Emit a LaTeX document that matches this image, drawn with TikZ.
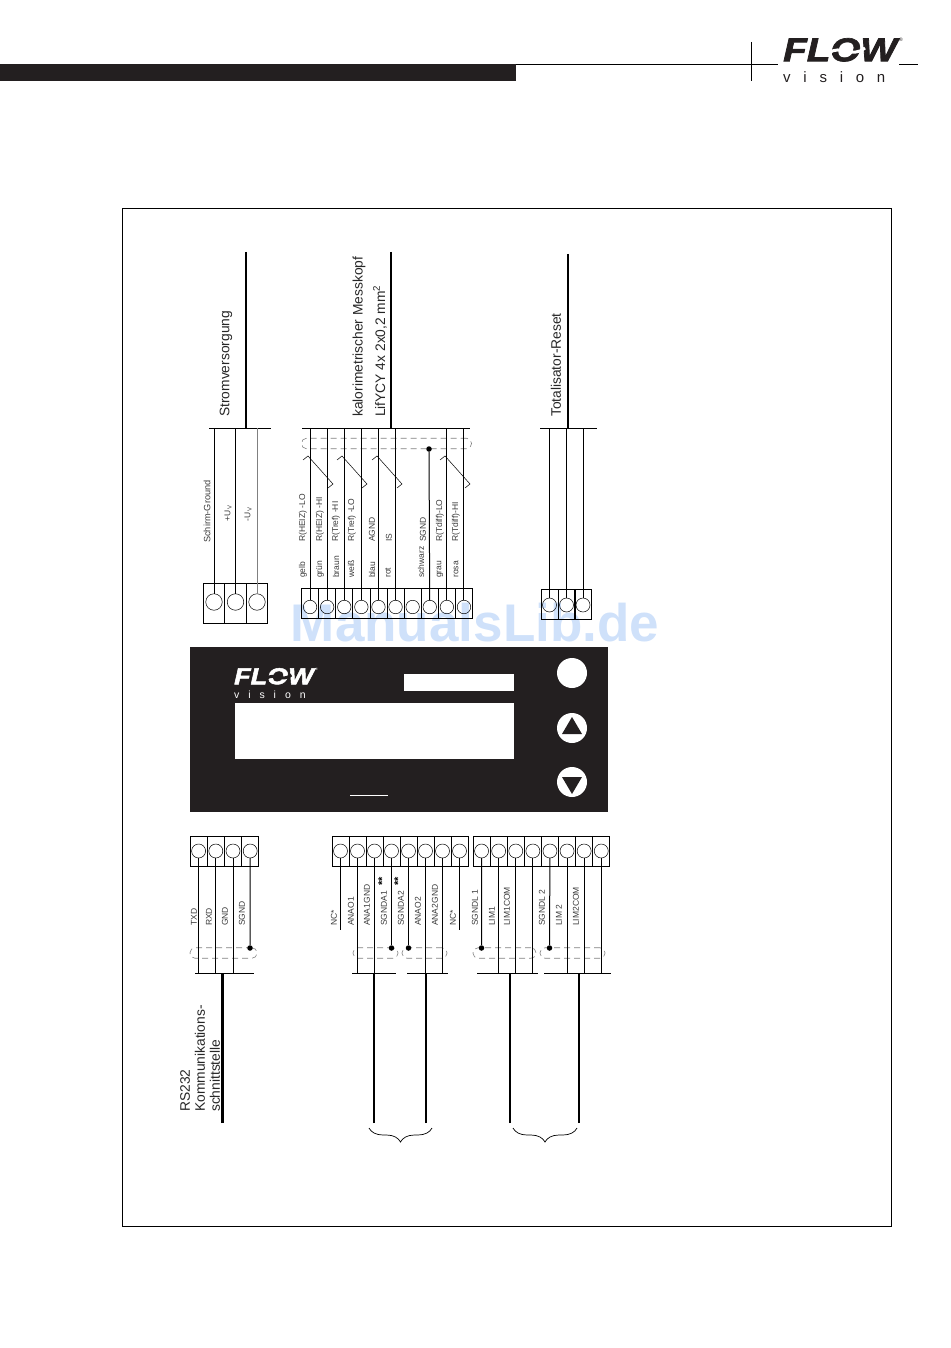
\documentclass[tikz,border=0pt]{standalone}
\usepackage{fontspec}
\usepackage{graphicx}
\setmainfont{Liberation Sans}
\newfontfamily\visionfont[LetterSpace=85]{Liberation Sans}
\newfontfamily\flowfont[BoldItalicFeatures={FakeBold=2}]{Liberation Sans}
\usetikzlibrary{decorations.pathreplacing}
\definecolor{panelblack}{HTML}{231F20}
\definecolor{inkgray}{HTML}{3A3A3A}
\definecolor{shieldgray}{HTML}{808080}
\definecolor{markblue}{HTML}{CFE1FA}
\tikzset{
	pics/flowlogo/.style 2 args={code={
		\node[anchor=north west,inner sep=0pt,text=#1,font=\fontsize{33}{33}\flowfont\bfseries\itshape] (-flow) at (0,0) {\scalebox{1.17}[1]{FLOW}};
		\draw[#2,line width=3pt] (46,15) .. controls (58,6) and (68,21) .. (82,10);
		\node[anchor=north west,inner sep=0pt,text=#1,font=\fontsize{5}{5}\selectfont] (-mark) at (116,0) {®};
		\node[anchor=north west,inner sep=0pt,text=#1,font=\fontsize{15}{15}\visionfont] (-vision) at (0,33) {vision};
	}},
	termcell/.style={draw,inner sep=0pt,outer sep=0pt,line width=.8pt},
	termpin/.style={circle,draw,inner sep=0pt,outer sep=0pt,line width=.5pt},
	wire/.style={line width=1pt},
	bus/.style={line width=1pt},
	cable/.style={line width=2.4pt},
	twist/.style={line width=.5pt},
	shield/.style={draw=shieldgray,dashed,dash pattern=on 6pt off 4pt,rounded corners=5pt,inner sep=0pt,line width=.6pt,minimum height=10.5pt},
	sdot/.style={circle,fill=black,inner sep=0pt,minimum size=5.5pt},
	wirelabel/.style={rotate=90,anchor=west,inner sep=0pt,text=inkgray,font=\fontsize{8.5}{8.5}\selectfont},
	head/.style={rotate=90,anchor=west,inner sep=0pt,align=left,text=black!85,font=\fontsize{13.8}{15}\selectfont},
	brace/.style={decorate,decoration={brace,amplitude=14pt},line width=.7pt},
	whitebox/.style={fill=white,anchor=north west,inner sep=0pt,outer sep=0pt},
	button/.style={circle,fill=white,inner sep=0pt,minimum size=30pt}
}
\begin{document}
\begin{tikzpicture}[x=1pt,y=-1pt]
\useasboundingbox (0,0) rectangle (950,1348);
\node[text=markblue,font=\fontsize{53}{53}\selectfont\bfseries] (watermark) at (475,623) {ManualsLib.de};

\node[fill=panelblack,anchor=north west,inner sep=0pt,outer sep=0pt,minimum width=516pt,minimum height=17pt] (headbar) at (0,64) {};
\coordinate (ruleA) at (headbar.north east);
\coordinate (ruleB) at (778,64);
\coordinate (ruleC) at (899,64);
\coordinate (ruleD) at (918,64);
\coordinate (tickA) at (751,42);
\coordinate (tickB) at (751,81);
\draw[line width=.6pt] (ruleA) -- (ruleB);
\draw[line width=.6pt] (ruleC) -- (ruleD);
\draw[line width=.6pt] (tickA) -- (tickB);
\pic (logoHead) at (783,38) {flowlogo={panelblack}{white}};

\node[draw,anchor=north west,inner sep=0pt,outer sep=0pt,line width=.7pt,minimum width=769pt,minimum height=1018pt] (frame) at (122.5,208.5) {};

\node[head] (stromText) at (226,417) {Stromversorgung};
\coordinate (stromTop) at (246,252);
\coordinate (stromL) at (209,428);
\coordinate (stromR) at (271,428);
\draw[bus] (stromL) -- (stromR);
\draw[cable] (stromTop) -- (stromTop |- stromL);
\foreach \n/\x in {1/214,2/235.5,3/257} {
	\node[termcell,minimum width=21.7pt,minimum height=40pt] (stromCell\n) at (\x,603) {};
	\node[termpin,minimum size=16.5pt] (strom\n) at (\x,602) {};
}
\draw[wire] (strom1) -- (strom1 |- stromL);
\draw[wire] (strom2) -- (strom2 |- stromL);
\draw[wire,shieldgray] (strom3) -- (strom3 |- stromL);
\node[wirelabel,font=\fontsize{9.2}{9.2}\selectfont] (stromLabelA) at (207,543) {Schirm-Ground};
\node[wirelabel] (stromLabelB) at (228,522) {+U\textsubscript{ V}};
\node[wirelabel] (stromLabelC) at (248,522) {-U\textsubscript{ V}};

\node[head] (messTextA) at (359,417) {kalorimetrischer Messkopf};
\node[head] (messTextB) at (380,417) {LifYCY 4x 2x0,2 mm\textsuperscript{2}};
\coordinate (messTop) at (391,252);
\coordinate (messL) at (302,428);
\coordinate (messR) at (470,428);
\draw[bus] (messL) -- (messR);
\draw[cable] (messTop) -- (messTop |- messL);
\node[shield,minimum width=170pt] (messShield) at (386.5,443.5) {};
\foreach \n in {1,...,10} {
	\pgfmathsetmacro\x{301.5+17.1*(\n-.5)}
	\node[termcell,minimum width=17.1pt,minimum height=30pt] (messCell\n) at (\x,603) {};
	\node[termpin,minimum size=13.5pt] (mess\n) at (\x,607) {};
}
\foreach \n in {1,...,6,9,10} {
	\draw[wire] (mess\n) -- (mess\n |- messL);
}
\node[sdot] (messDot) at (429,449) {};
\draw[wire] (mess8) -- (messDot);
\foreach \x in {303,337,372,440} {
	\draw[twist] (\x,460) -- ++(5,-4) -- ++(25,28) -- ++(-5,4);
}
\foreach \n/\x/\t in {a/303/R(HEIZ) -LO,b/320/R(HEIZ) -HI,c/336/R(Tref) -HI,d/352/R(Tref) -LO,e/372/AGND,f/389/IS,g/423/SGND,h/440/R(Tdiff)-LO,i/456/R(Tdiff)-HI} {
	\node[wirelabel] (messSig\n) at (\x,542) {\t};
}
\foreach \n/\x/\t in {a/303/gelb,b/320/grün,c/336/braun,d/351/weiß,e/372/blau,f/388/rot,g/421/schwarz,h/440/grau,i/456/rosa} {
	\node[wirelabel] (messCol\n) at (\x,578) {\t};
}

\node[head] (totalText) at (556,417) {Totalisator-Reset};
\coordinate (totalTop) at (568,254);
\coordinate (totalL) at (540,428);
\coordinate (totalR) at (597,428);
\draw[bus] (totalL) -- (totalR);
\draw[cable] (totalTop) -- (totalTop |- totalL);
\foreach \n/\x in {1/549.5,2/566.5,3/583} {
	\node[termcell,minimum width=17pt,minimum height=30pt] (totalCell\n) at (\x,604) {};
	\node[termpin,minimum size=14pt] (total\n) at (\x,605) {};
	\draw[wire] (total\n) -- (total\n |- totalL);
}

\node[fill=panelblack,anchor=north west,inner sep=0pt,outer sep=0pt,minimum width=418pt,minimum height=165pt] (display) at (190,647) {};
\pic[scale=.7,transform shape] (logoPanel) at (234,668) {flowlogo={white}{panelblack}};
\node[whitebox,minimum width=110pt,minimum height=17pt] (windowSmall) at (404,674) {};
\node[whitebox,minimum width=279pt,minimum height=56pt] (windowBig) at (235,703) {};
\coordinate (dashA) at (350,795);
\coordinate (dashB) at (388,795);
\draw[white,line width=.8pt] (dashA) -- (dashB);
\node[button] (keyEnter) at (572,673) {};
\node[button] (keyUp) at (572,728) {};
\node[button] (keyDown) at (572,782) {};
\fill[panelblack] (572,717) -- (582,734) -- (562,734) -- cycle;
\fill[panelblack] (572,794) -- (582,777) -- (562,777) -- cycle;

\foreach \n in {1,...,4} {
	\pgfmathsetmacro\x{190+17.2*(\n-.5)}
	\node[termcell,minimum width=17.2pt,minimum height=30pt] (rsCell\n) at (\x,851) {};
	\node[termpin,minimum size=14pt] (rs\n) at (\x,851) {};
}
\coordinate (rsL) at (195,973.5);
\coordinate (rsR) at (254,973.5);
\coordinate (rsEnd) at (222.5,1123);
\node[shield,minimum width=67pt] (rsShield) at (223.5,953) {};
\draw[bus] (rsL) -- (rsR);
\draw[cable] (rsEnd) -- (rsEnd |- rsL);
\foreach \n in {1,2,3} {
	\draw[wire] (rs\n) -- (rs\n |- rsL);
}
\node[sdot] (rsDot) at (250,948) {};
\draw[wire] (rs4) -- (rsDot);
\foreach \n/\x/\t in {1/194/TXD,2/209/RXD,3/225/GND,4/242/SGND} {
	\node[wirelabel] (rsSig\n) at (\x,926) {\t};
}
\node[head] (rsText) at (200,1112) {RS232\\Kommunikations-\\schnittstelle};

\foreach \n in {1,...,8} {
	\pgfmathsetmacro\x{332+17*(\n-.5)}
	\node[termcell,minimum width=17pt,minimum height=30pt] (anaCell\n) at (\x,851) {};
	\node[termpin,minimum size=14pt] (ana\n) at (\x,851) {};
}
\coordinate (anaLA) at (352,973.5);
\coordinate (anaRA) at (396,973.5);
\coordinate (anaLB) at (407,973.5);
\coordinate (anaRB) at (448,973.5);
\coordinate (anaEndA) at (374,1123);
\coordinate (anaEndB) at (426,1123);
\coordinate (ncA) at (340.5,930);
\coordinate (ncB) at (459.5,930);
\node[shield,minimum width=45pt] (anaShieldA) at (375.5,953) {};
\node[shield,minimum width=45pt] (anaShieldB) at (424.5,953) {};
\draw[bus] (anaLA) -- (anaRA);
\draw[bus] (anaLB) -- (anaRB);
\draw[cable] (anaEndA) -- (anaEndA |- anaLA);
\draw[cable] (anaEndB) -- (anaEndB |- anaLB);
\draw[wire] (ana1) -- (ncA);
\draw[wire] (ana8) -- (ncB);
\foreach \n in {2,3} {
	\draw[wire] (ana\n) -- (ana\n |- anaLA);
}
\foreach \n in {6,7} {
	\draw[wire] (ana\n) -- (ana\n |- anaLB);
}
\node[sdot] (anaDotA) at (391.5,948) {};
\node[sdot] (anaDotB) at (408.5,948) {};
\draw[wire] (ana4) -- (anaDotA);
\draw[wire] (ana5) -- (anaDotB);
\foreach \n/\x/\t in {1/334/NC*,2/351/ANAO1,3/367/ANA1GND,4/384/SGNDA1,5/401/SGNDA2,6/418/ANAO2,7/435/ANA2GND,8/453/NC*} {
	\node[wirelabel] (anaSig\n) at (\x,926) {\t};
}
\node[wirelabel,text=black,font=\fontsize{11}{11}\selectfont\bfseries] (starsA) at (382,886) {**};
\node[wirelabel,text=black,font=\fontsize{11}{11}\selectfont\bfseries] (starsB) at (398,886) {**};

\foreach \n in {1,...,8} {
	\pgfmathsetmacro\x{473+17.1*(\n-.5)}
	\node[termcell,minimum width=17.1pt,minimum height=30pt] (limCell\n) at (\x,851) {};
	\node[termpin,minimum size=14pt] (lim\n) at (\x,851) {};
}
\coordinate (limLA) at (477,973.5);
\coordinate (limRA) at (538,973.5);
\coordinate (limLB) at (544,973.5);
\coordinate (limRB) at (611,973.5);
\coordinate (limEndA) at (510,1123);
\coordinate (limEndB) at (579,1123);
\node[shield,minimum width=63pt] (limShieldA) at (504.5,953) {};
\node[shield,minimum width=65pt] (limShieldB) at (572.5,953) {};
\draw[bus] (limLA) -- (limRA);
\draw[bus] (limLB) -- (limRB);
\draw[cable] (limEndA) -- (limEndA |- limLA);
\draw[cable] (limEndB) -- (limEndB |- limLB);
\foreach \n in {2,3,4} {
	\draw[wire] (lim\n) -- (lim\n |- limLA);
}
\foreach \n in {6,7,8} {
	\draw[wire] (lim\n) -- (lim\n |- limLB);
}
\node[sdot] (limDotA) at (481.5,948) {};
\node[sdot] (limDotB) at (549.5,948) {};
\draw[wire] (lim1) -- (limDotA);
\draw[wire] (lim5) -- (limDotB);
\foreach \n/\x/\t in {1/475/SGNDL 1,2/492/LIM1,3/507/LIM1COM,4/524//LIM1,5/542/SGNDL 2,6/559/LIM 2,7/576/LIM2COM,8/592//LIM2} {
	\node[wirelabel] (limSig\n) at (\x,926) {\t};
}

\coordinate (braceAL) at (369,1128);
\coordinate (braceAR) at (432,1128);
\coordinate (braceBL) at (513,1128);
\coordinate (braceBR) at (577,1128);
\draw[brace] (braceAR) -- (braceAL);
\draw[brace] (braceBR) -- (braceBL);
\end{tikzpicture}
\end{document}
